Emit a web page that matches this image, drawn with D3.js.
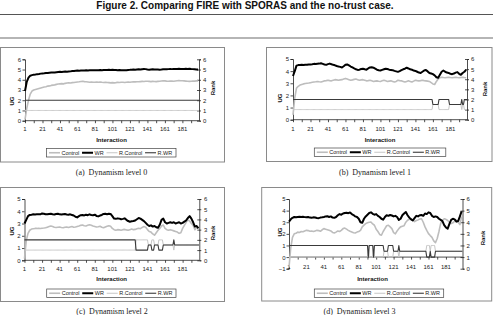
<!DOCTYPE html>
<html><head><meta charset="utf-8">
<script src="https://cdn.jsdelivr.net/npm/d3@7"></script>
<style>body{margin:0;background:#fff}svg{display:block}</style>
</head><body>
<svg id="c" width="495" height="315"></svg>
<script>
// ---------- DATA ----------
const interactions = d3.range(1, 201);          // categories 1..200 (rank series)
const ugInteractions = d3.range(1, 200, 2);      // sampled categories for UG series
const xTickLabels = [1,21,41,61,81,101,121,141,161,181];
const xTickMarks = [1,11,21,31,41,51,61,71,81,91,101,111,121,131,141,151,161,171,181,191];
const rankTicks = [0,1,2,3,4,5,6];
const ugTicksA = [0,1,2,3,4,5,6];
const ugTicksB = [0,1,2,3,4,5];
const ugTicksC = [0,1,2,3,4,5];
const ugTicksD = [-1,0,1,2,3,4,5];
const seriesNames = ["Control","WR","R.Control","R.WR"];
const captions = ["(a)  Dynamism level 0","(b)  Dynamism level 1","(c)  Dynamism level 2","(d)  Dynamism level 3"];
const figureTitle = "Figure 2. Comparing FIRE with SPORAS and the no-trust case.";

// Panel (a)
const controlA = [0.1,1.2,2.0,2.6,2.9,3.0,3.05,3.1,3.15,3.2,
3.25,3.3,3.32,3.38,3.4,3.45,3.48,3.5,3.55,3.58,
3.6,3.62,3.6,3.65,3.68,3.7,3.69,3.72,3.74,3.76,
3.78,3.8,3.83,3.85,3.82,3.8,3.78,3.76,3.78,3.75,
3.76,3.78,3.75,3.77,3.75,3.74,3.76,3.73,3.72,3.7,
3.72,3.7,3.72,3.75,3.74,3.76,3.75,3.73,3.76,3.78,
3.76,3.78,3.8,3.79,3.81,3.8,3.82,3.84,3.83,3.85,
3.86,3.84,3.82,3.84,3.83,3.82,3.84,3.86,3.88,3.9,
3.89,3.87,3.86,3.88,3.87,3.85,3.88,3.9,3.92,3.9,
3.91,3.89,3.87,3.85,3.84,3.86,3.88,3.87,3.89,3.88];
const wrA = [2.9,3.8,4.2,4.4,4.45,4.5,4.52,4.55,4.57,4.6,
4.62,4.63,4.65,4.66,4.68,4.7,4.72,4.72,4.74,4.76,
4.78,4.77,4.79,4.8,4.78,4.8,4.82,4.85,4.86,4.88,
4.9,4.89,4.9,4.91,4.9,4.92,4.91,4.92,4.93,4.92,
4.93,4.94,4.93,4.95,4.94,4.95,4.96,4.95,4.97,4.96,
4.97,4.95,4.96,4.94,4.95,4.93,4.94,4.92,4.94,4.96,
4.97,4.99,5.0,4.98,5.0,5.02,5.0,5.03,5.05,5.04,
5.0,4.98,5.0,5.02,5.0,5.01,5.0,4.99,5.0,5.02,
5.03,5.02,5.04,5.05,5.04,5.06,5.05,5.06,5.07,5.05,
5.06,5.05,5.07,5.06,5.08,5.05,5.04,5.02,5.0,5.01];
const rControlA = [1,1,1,1,1,1,1,1,1,1,1,1,1,1,1,1,1,1,1,1,
1,1,1,1,1,1,1,1,1,1,1,1,1,1,1,1,1,1,1,1,
1,1,1,1,1,1,1,1,1,1,1,1,1,1,1,1,1,1,1,1,
1,1,1,1,1,1,1,1,1,1,1,1,1,1,1,1,1,1,1,1,
1,1,1,1,1,1,1,1,1,1,1,1,1,1,1,1,1,1,1,1,
1,1,1,1,1,1,1,1,1,1,1,1,1,1,1,1,1,1,1,1,
1,1,1,1,1,1,1,1,1,1,1,1,1,1,1,1,1,1,1,1,
1,1,1,1,1,1,1,1,1,1,1,1,1,1,1,1,1,1,1,1,
1,1,1,1,1,1,1,1,1,1,1,1,1,1,1,1,1,1,1,1,
1,1,1,1,1,1,1,1,1,1,1,1,1,1,1,1,1,1,1,1];
const rWrA = [2,2,2,2,2,2,2,2,2,2,2,2,2,2,2,2,2,2,2,2,
2,2,2,2,2,2,2,2,2,2,2,2,2,2,2,2,2,2,2,2,
2,2,2,2,2,2,2,2,2,2,2,2,2,2,2,2,2,2,2,2,
2,2,2,2,2,2,2,2,2,2,2,2,2,2,2,2,2,2,2,2,
2,2,2,2,2,2,2,2,2,2,2,2,2,2,2,2,2,2,2,2,
2,2,2,2,2,2,2,2,2,2,2,2,2,2,2,2,2,2,2,2,
2,2,2,2,2,2,2,2,2,2,2,2,2,2,2,2,2,2,2,2,
2,2,2,2,2,2,2,2,2,2,2,2,2,2,2,2,2,2,2,2,
2,2,2,2,2,2,2,2,2,2,2,2,2,2,2,2,2,2,2,2,
2,2,2,2,2,2,2,2,2,2,2,2,2,2,2,2,2,2,2,2];

// Panel (b)
const controlB = [0.4,1.8,2.6,2.75,2.85,2.9,2.95,2.98,3.0,3.02,
3.05,3.08,3.1,3.12,3.15,3.12,3.1,3.15,3.2,3.22,
3.25,3.22,3.2,3.25,3.3,3.28,3.25,3.28,3.3,3.35,
3.4,3.35,3.3,3.25,3.28,3.32,3.35,3.3,3.25,3.28,
3.3,3.25,3.2,3.22,3.25,3.2,3.15,3.18,3.2,3.17,
3.15,3.2,3.25,3.2,3.15,3.18,3.2,3.15,3.1,3.15,
3.25,3.22,3.2,3.15,3.1,3.15,3.2,3.15,3.1,3.18,
3.25,3.22,3.2,3.22,3.25,3.22,3.2,3.18,3.15,3.05,
2.95,2.9,3.15,3.35,3.45,3.5,3.47,3.45,3.48,3.5,
3.47,3.45,3.48,3.5,3.47,3.45,3.48,3.5,3.47,3.45];
const wrB = [3.6,4.0,4.45,4.5,4.5,4.52,4.5,4.53,4.52,4.55,
4.55,4.57,4.6,4.58,4.6,4.62,4.65,4.6,4.55,4.52,
4.58,4.62,4.57,4.52,4.48,4.42,4.38,4.35,4.3,4.4,
4.52,4.55,4.48,4.38,4.3,4.22,4.15,4.1,4.12,4.18,
4.2,4.15,4.12,4.22,4.3,4.32,4.28,4.2,4.12,4.08,
4.05,4.1,4.15,4.2,4.18,4.12,4.1,4.08,4.02,3.98,
3.94,4.0,4.08,4.15,4.2,4.28,4.22,4.15,4.12,4.05,
4.02,3.95,3.88,3.85,3.95,4.05,4.1,3.98,3.85,3.8,
3.75,3.65,3.5,3.45,3.7,3.95,4.05,3.95,3.88,3.85,
3.78,3.75,3.8,3.88,3.92,3.78,3.7,3.85,3.95,4.1];
const rControlB = [1,1,1,1,1,1,1,1,1,1,1,1,1,1,1,1,1,1,1,1,
1,1,1,1,1,1,1,1,1,1,1,1,1,1,1,1,1,1,1,1,
1,1,1,1,1,1,1,1,1,1,1,1,1,1,1,1,1,1,1,1,
1,1,1,1,1,1,1,1,1,1,1,1,1,1,1,1,1,1,1,1,
1,1,1,1,1,1,1,1,1,1,1,1,1,1,1,1,1,1,1,1,
1,1,1,1,1,1,1,1,1,1,1,1,1,1,1,1,1,1,1,1,
1,1,1,1,1,1,1,1,1,1,1,1,1,1,1,1,1,1,1,1,
1,1,1,1,1,1,1,1,1,1,1,1,1,1,1,1,1,1,1,1,
1.5,1.5,1.5,1.5,1.5,1.5,1.5,1,1,1,1,1,1,1,1,1,1,1,1,1.5,
1.5,1.5,1.5,1.5,1.5,1.5,1.5,1.5,1.5,1.5,1.5,1.5,1.5,1,1.5,1.5,1,1,1,1];
const rWrB = [2,2,2,2,2,2,2,2,2,2,2,2,2,2,2,2,2,2,2,2,
2,2,2,2,2,2,2,2,2,2,2,2,2,2,2,2,2,2,2,2,
2,2,2,2,2,2,2,2,2,2,2,2,2,2,2,2,2,2,2,2,
2,2,2,2,2,2,2,2,2,2,2,2,2,2,2,2,2,2,2,2,
2,2,2,2,2,2,2,2,2,2,2,2,2,2,2,2,2,2,2,2,
2,2,2,2,2,2,2,2,2,2,2,2,2,2,2,2,2,2,2,2,
2,2,2,2,2,2,2,2,2,2,2,2,2,2,2,2,2,2,2,2,
2,2,2,2,2,2,2,2,2,2,2,2,2,2,2,2,2,2,2,2,
1.5,1.5,1.5,1.5,1.5,1.5,1.5,2,2,2,2,2,2,2,2,2,2,2,2,1.5,
1.5,1.5,1.5,1.5,1.5,1.5,1.5,1.5,1.5,1.5,1.5,1.5,1.5,2,1.5,1.5,2,2,2,2];

// Panel (c)
const controlC = [0.15,1.6,2.2,2.45,2.55,2.58,2.6,2.6,2.62,2.6,
2.62,2.63,2.65,2.7,2.75,2.8,2.76,2.7,2.68,2.7,
2.72,2.68,2.66,2.7,2.72,2.68,2.72,2.75,2.7,2.72,
2.76,2.8,2.85,2.88,2.82,2.8,2.85,2.9,2.86,2.8,
2.76,2.72,2.74,2.78,2.7,2.66,2.72,2.78,2.82,2.78,
2.6,2.5,2.45,2.5,2.48,2.45,2.5,2.52,2.48,2.45,
2.5,2.55,2.5,2.52,2.58,2.62,2.58,2.68,2.75,2.7,
2.5,2.35,2.3,2.15,2.05,2.25,2.45,2.6,2.8,2.88,
2.6,2.5,2.45,2.5,2.45,2.4,2.35,2.3,2.2,2.25,
2.6,2.85,3.1,3.3,3.2,3.0,2.85,2.5,2.65,2.7];
const wrC = [3.0,3.3,3.6,3.7,3.72,3.75,3.73,3.75,3.76,3.75,
3.82,3.8,3.76,3.75,3.78,3.8,3.76,3.74,3.78,3.8,
3.75,3.73,3.76,3.78,3.74,3.72,3.75,3.7,3.65,3.55,
3.5,3.6,3.68,3.7,3.66,3.72,3.68,3.75,3.7,3.68,
3.72,3.62,3.58,3.65,3.7,3.78,3.8,3.76,3.8,3.78,
3.6,3.4,3.38,3.42,3.4,3.35,3.38,3.42,3.3,3.2,
3.15,3.18,3.2,3.25,3.35,3.45,3.4,3.3,3.2,3.05,
2.9,2.8,2.85,2.75,2.8,2.7,2.65,2.9,3.3,3.4,
3.1,3.0,3.05,3.1,3.05,3.1,3.0,3.05,3.1,3.0,
3.05,3.15,3.25,3.45,3.6,3.4,3.1,2.75,2.8,2.6];
const rControlC = [1,1,1,1,1,1,1,1,1,1,1,1,1,1,1,1,1,1,1,1,
1,1,1,1,1,1,1,1,1,1,1,1,1,1,1,1,1,1,1,1,
1,1,1,1,1,1,1,1,1,1,1,1,1,1,1,1,1,1,1,1,
1,1,1,1,1,1,1,1,1,1,1,1,1,1,1,1,1,1,1,1,
1,1,1,1,1,1,1,1,1,1,1,1,1,1,1,1,1,1,1,1,
1,1,1,1,1,1,1,1,1,1,1,1,1,1,1,1,1,1,1,1,
1,1,1,1,1,1,1,2,2,2,2,2,2,2,2,2,2,2,2,2,
2,1.5,1.5,1.5,1.5,2,2,2,1.5,1.5,1.5,1.5,1.5,2,2,2,2,2,1.5,1.5,
1.5,1.5,1.5,1.5,1.5,1.5,1.5,1.5,1.5,1.5,1,1.5,1.5,1.5,1.5,1.5,1.5,1.5,1.5,1.5,
1.5,1.5,1.5,1.5,1.5,1.5,1.5,1.5,1.5,1.5,1.5,1.5,1.5,1.5,1.5,1.5,1.5,1.5,1.5,1.5];
const rWrC = [2,2,2,2,2,2,2,2,2,2,2,2,2,2,2,2,2,2,2,2,
2,2,2,2,2,2,2,2,2,2,2,2,2,2,2,2,2,2,2,2,
2,2,2,2,2,2,2,2,2,2,2,2,2,2,2,2,2,2,2,2,
2,2,2,2,2,2,2,2,2,2,2,2,2,2,2,2,2,2,2,2,
2,2,2,2,2,2,2,2,2,2,2,2,2,2,2,2,2,2,2,2,
2,2,2,2,2,2,2,2,2,2,2,2,2,2,2,2,2,2,2,2,
2,2,2,2,2,2,2,1,1,1,1,1,1,1,1,1,1,1,1,1,
1,1.5,1.5,1.5,1.5,1,1,1,1.5,1.5,1.5,1.5,1.5,1,1,1,1,1,1.5,1.5,
1.5,1.5,1.5,1.5,1.5,1.5,1.5,1.5,1.5,1.5,2,1.5,1.5,1.5,1.5,1.5,1.5,1.5,1.5,1.5,
1.5,1.5,1.5,1.5,1.5,1.5,1.5,1.5,1.5,1.5,1.5,1.5,1.5,1.5,1.5,1.5,1.5,1.5,1.5,1.5];

// Panel (d)
const controlD = [-0.9,0.8,1.7,2.0,2.05,2.15,2.12,2.2,2.18,2.25,
2.3,2.28,2.22,2.25,2.2,2.25,2.3,2.28,2.22,2.35,
2.45,2.4,2.35,2.3,2.25,2.12,2.08,2.15,2.25,2.2,
2.3,2.45,2.5,2.4,2.3,2.22,2.16,2.1,2.08,2.15,
2.2,2.3,2.6,2.75,2.88,2.95,3.0,3.02,2.85,2.74,
2.4,2.2,1.95,1.88,2.2,2.45,2.7,2.74,2.6,2.45,
2.1,2.0,2.25,2.45,2.6,2.65,2.7,3.0,3.17,3.25,
3.3,3.2,3.05,3.15,3.2,3.28,3.3,3.0,2.6,2.3,
2.02,1.85,1.7,1.4,1.25,1.6,2.2,2.9,3.17,3.3,
3.25,3.15,3.0,2.88,2.95,3.1,3.17,3.0,2.8,3.5];
const wrD = [3.05,3.25,3.38,3.45,3.42,3.45,3.48,3.45,3.47,3.44,
3.42,3.45,3.4,3.38,3.42,3.4,3.36,3.35,3.4,3.42,
3.45,3.5,3.52,3.45,3.5,3.4,3.38,3.45,3.6,3.7,
3.65,3.75,3.8,3.82,3.78,3.84,3.7,3.62,3.5,3.45,
3.3,3.0,2.95,3.3,3.5,3.65,3.8,3.85,3.72,3.65,
3.7,3.55,3.45,3.3,3.22,3.45,3.6,3.55,3.62,3.58,
3.5,3.55,3.45,3.2,3.3,3.6,3.75,3.88,3.6,3.4,
3.25,3.15,3.35,3.55,3.5,3.6,3.62,3.55,3.75,3.7,
3.85,3.8,3.55,3.45,3.5,3.45,3.3,3.2,3.1,2.75,
2.55,2.45,2.85,3.2,3.3,3.25,3.05,3.1,3.5,3.95];
const rControlD = [1,1,1,1,1,1,1,1,1,1,1,1,1,1,1,1,1,1,1,1,
1,1,1,1,1,1,1,1,1,1,1,1,1,1,1,1,1,1,1,1,
1,1,1,1,1,1,1,1,1,1,1,1,1,1,1,1,1,1,1,1,
1,1,1,1,1,1,1,1,1,1,1,1,1,1,1,1,1,1,1,1,
1,1,1,1,1,1,1,1,1,1,1,2,1,1,1,1,1,2,1,1,
1,1,1,1,1,1,1,1,1,1.5,1.5,1.5,1.5,1.5,1,1,1,1,1,1,
1.5,1.5,1.5,1.5,1.5,1.5,1,1.5,1.5,1.5,1.5,1.5,1.5,1.5,1.5,1.5,1.5,1.5,1.5,1.5,
1.5,1.5,1.5,1.5,1.5,1.5,1.5,1.5,1.5,1.5,1.5,1.5,1.5,1.5,1.5,1.5,1.5,1.5,2,2,
2,2,1.5,2,2,2,2,2,1.5,1.5,1.5,1.5,1.5,1.5,1.5,1.5,1.5,1.5,1.5,1.5,
1.5,1.5,1.5,1.5,1.5,1.5,1.5,1.5,1.5,1.5,1.5,1.5,1.5,1.5,1.5,1.5,1.5,1.5,1.5,1.5];
const rWrD = [2,2,2,2,2,2,2,2,2,2,2,2,2,2,2,2,2,2,2,2,
2,2,2,2,2,2,2,2,2,2,2,2,2,2,2,2,2,2,2,2,
2,2,2,2,2,2,2,2,2,2,2,2,2,2,2,2,2,2,2,2,
2,2,2,2,2,2,2,2,2,2,2,2,2,2,2,2,2,2,2,2,
2,2,2,2,2,2,2,2,2,2,2,1,2,2,2,2,2,1,2,2,
2,2,2,2,2,2,2,2,2,1.5,1.5,1.5,1.5,1.5,2,2,2,2,2,2,
1.5,1.5,1.5,1.5,1.5,1.5,2,1.5,1.5,1.5,1.5,1.5,1.5,1.5,1.5,1.5,1.5,1.5,1.5,1.5,
1.5,1.5,1.5,1.5,1.5,1.5,1.5,1.5,1.5,1.5,1.5,1.5,1.5,1.5,1.5,1.5,1.5,1.5,1,1,
1,1,1.5,1,1,1,1,1,1.5,1.5,1.5,1.5,1.5,1.5,1.5,1.5,1.5,1.5,1.5,1.5,
1.5,1.5,1.5,1.5,1.5,1.5,1.5,1.5,1.5,1.5,1.5,1.5,1.5,1.5,1.5,1.5,1.5,1.5,1.5,1.5];

// ---------- LAYOUT ----------
const FONT = "'Liberation Sans', Arial, sans-serif";
const panels = [
  {control:controlA, wr:wrA, rc:rControlA, rw:rWrA, ugTicks:ugTicksA, ugDomain:[0,6], cap:captions[0],
   x0:25, x1:199, yT:59.3, yB:120.7, xLabY:129.3, titX:111.5, titY:139.5,
   leg:{x:46.5,y:148.5,w:129.5,h:8.5}, ugL:{x:12,y:101}, rkL:{x:213,y:88},
   box:{x:0.5,y:47.5,w:224,h:114.5}, capP:{x:111.5,y:172}, lLabX:21, rLabX:203},
  {control:controlB, wr:wrB, rc:rControlB, rw:rWrB, ugTicks:ugTicksB, ugDomain:[0,5], cap:captions[1],
   x0:293, x1:467, yT:59, yB:119.7, xLabY:129.3, titX:380, titY:139.5,
   leg:{x:314.3,y:148,w:131.5,h:8.5}, ugL:{x:279.5,y:98}, rkL:{x:485,y:89},
   box:{x:266.5,y:47.5,w:225.5,h:114}, capP:{x:375,y:172}, lLabX:289, rLabX:471},
  {control:controlC, wr:wrC, rc:rControlC, rw:rWrC, ugTicks:ugTicksC, ugDomain:[0,5], cap:captions[2],
   x0:24.5, x1:199.3, yT:199, yB:260.3, xLabY:268.5, titX:111.7, titY:278.5,
   leg:{x:46.7,y:289,w:129.3,h:8.5}, ugL:{x:12,y:231}, rkL:{x:213,y:233},
   box:{x:0.5,y:187.5,w:224,h:114}, capP:{x:112,y:311}, lLabX:20.5, rLabX:204},
  {control:controlD, wr:wrD, rc:rControlD, rw:rWrD, ugTicks:ugTicksD, ugDomain:[-1,5], cap:captions[3],
   x0:289, x1:462.5, yT:199, yB:268.7, xLabY:267.3, titX:372.5, titY:278.5,
   leg:{x:314.3,y:289,w:129.4,h:8.5}, ugL:{x:280,y:232}, rkL:{x:482.5,y:238},
   box:{x:261.7,y:187.5,w:230,h:113.5}, capP:{x:359.5,y:311}, lLabX:285.5, rLabX:466.5}
];
const styles = {
  "Control":   {stroke:"#bdbdbd", width:1.6},
  "WR":        {stroke:"#000000", width:2},
  "R.Control": {stroke:"#c6c6c6", width:1},
  "R.WR":      {stroke:"#3a3a3a", width:1.1}
};

const svg = d3.select("#c");
svg.append("rect").attr("width",495).attr("height",315).attr("fill","#fff");

// figure title and rules
svg.append("text").attr("x",245).attr("y",8.6).attr("text-anchor","middle")
  .attr("font-family",FONT).attr("font-weight","bold").attr("font-size",10).attr("fill","#111")
  .text(figureTitle);
svg.append("line").attr("x1",0).attr("x2",493).attr("y1",14.5).attr("y2",14.5).attr("stroke","#555").attr("stroke-width",1);
svg.append("line").attr("x1",0).attr("x2",493).attr("y1",38).attr("y2",38).attr("stroke","#b5b5b5").attr("stroke-width",2);

panels.forEach(p => {
  const g = svg.append("g");
  g.append("rect").attr("x",p.box.x).attr("y",p.box.y).attr("width",p.box.w).attr("height",p.box.h)
    .attr("fill","none").attr("stroke","#8a8a8a").attr("stroke-width",1);

  const x = d3.scaleLinear().domain([1,200]).range([p.x0,p.x1]);
  const yU = d3.scaleLinear().domain(p.ugDomain).range([p.yB,p.yT]);
  const yR = d3.scaleLinear().domain([0,6]).range([p.yB,p.yT]);
  const axisY = yU(0);

  // left axis
  const la = g.append("g").attr("transform",`translate(${p.x0},0)`)
    .call(d3.axisLeft(yU).tickValues(p.ugTicks).tickSize(2.5).tickPadding(2).tickFormat(d3.format("d")));
  la.select(".domain").attr("stroke","#222").attr("stroke-width",0.8);
  la.selectAll(".tick line").attr("stroke","#222").attr("stroke-width",0.8);
  la.selectAll("text").attr("font-family",FONT).attr("font-size",6).attr("fill","#222")
    .attr("x",p.lLabX - p.x0).attr("text-anchor","end");

  // right axis
  const ra = g.append("g").attr("transform",`translate(${p.x1},0)`)
    .call(d3.axisRight(yR).tickValues(rankTicks).tickSize(2).tickPadding(2).tickFormat(d3.format("d")));
  ra.select(".domain").attr("stroke","#222").attr("stroke-width",0.8);
  ra.selectAll(".tick line").attr("stroke","#222").attr("stroke-width",0.8).attr("x1",-2);
  ra.selectAll("text").attr("font-family",FONT).attr("font-size",6).attr("fill","#222")
    .attr("x",p.rLabX - p.x1).attr("text-anchor","start");

  // x axis at UG = 0
  const xa = g.append("g").attr("transform",`translate(0,${axisY})`)
    .call(d3.axisBottom(x).tickValues(xTickMarks).tickSize(2.5).tickFormat(""));
  xa.select(".domain").attr("stroke","#222").attr("stroke-width",0.8).attr("d",`M${p.x0},0H${p.x1}`);
  xa.selectAll(".tick line").attr("stroke","#222").attr("stroke-width",0.8);
  g.selectAll(".xl").data(xTickLabels).join("text").attr("class","xl")
    .attr("x",d=>x(d)).attr("y",p.xLabY).attr("dy","0.35em").attr("text-anchor","middle")
    .attr("font-family",FONT).attr("font-size",6).attr("fill","#222").text(d=>d);

  // titles
  g.append("text").attr("x",p.titX).attr("y",p.titY).attr("dy","0.35em").attr("text-anchor","middle")
    .attr("font-family",FONT).attr("font-size",6).attr("font-weight","bold").attr("fill","#111").text("Interaction");
  g.append("text").attr("transform",`translate(${p.ugL.x},${p.ugL.y}) rotate(-90)`).attr("dy","0.35em")
    .attr("text-anchor","middle").attr("font-family",FONT).attr("font-size",6).attr("font-weight","bold").attr("fill","#111").text("UG");
  g.append("text").attr("transform",`translate(${p.rkL.x},${p.rkL.y}) rotate(-90)`).attr("dy","0.35em")
    .attr("text-anchor","middle").attr("font-family",FONT).attr("font-size",6).attr("font-weight","bold").attr("fill","#111").text("Rank");

  // series
  const lineU = d3.line().x(d=>x(d[0])).y(d=>yU(d[1]));
  const lineR = d3.line().x(d=>x(d[0])).y(d=>yR(d[1]));
  const draw = (name, xs, vals, gen) => g.append("path")
    .attr("d", gen(xs.map((v,i)=>[v, vals[i]])))
    .attr("fill","none").attr("stroke",styles[name].stroke).attr("stroke-width",styles[name].width)
    .attr("stroke-linejoin","round");
  draw("Control", ugInteractions, p.control, lineU);
  draw("WR", ugInteractions, p.wr, lineU);
  draw("R.Control", interactions, p.rc, lineR);
  draw("R.WR", interactions, p.rw, lineR);

  // legend (sequential layout)
  const L = p.leg;
  g.append("rect").attr("x",L.x).attr("y",L.y).attr("width",L.w).attr("height",L.h)
    .attr("fill","#fff").attr("stroke","#444").attr("stroke-width",0.7);
  const cy = L.y + L.h/2;
  let cx = L.x + 2.5;
  seriesNames.forEach((n)=>{
    g.append("line").attr("x1",cx).attr("x2",cx+11).attr("y1",cy).attr("y2",cy)
      .attr("stroke",styles[n].stroke).attr("stroke-width",styles[n].width);
    cx += 12.5;
    const t = g.append("text").attr("x",cx).attr("y",cy).attr("dy","0.35em")
      .attr("font-family",FONT).attr("font-size",5.5).attr("fill","#222").text(n);
    cx += t.node().getComputedTextLength() + 2.8;
  });

  // caption
  svg.append("text").attr("x",p.capP.x).attr("y",p.capP.y).attr("dy","0.35em").attr("text-anchor","middle")
    .attr("font-family","'Liberation Serif','Times New Roman',serif").attr("font-size",8).attr("fill","#222")
    .style("white-space","pre").text(p.cap);
});
</script>
</body></html>
